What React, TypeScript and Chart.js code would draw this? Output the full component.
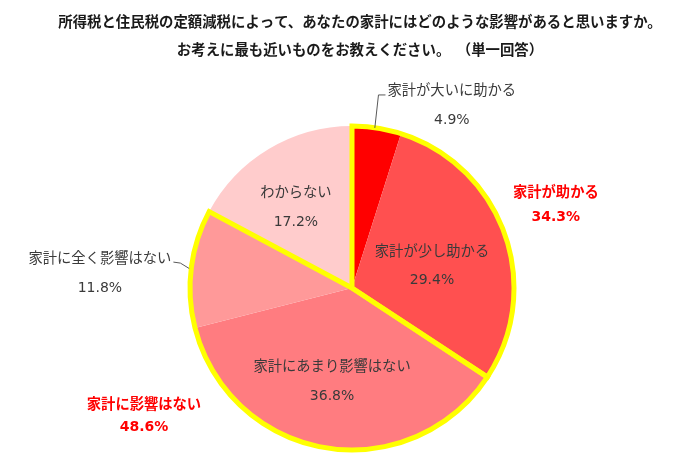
import React, { useEffect, useRef } from "react";
import { Chart, registerables } from "chart.js";

Chart.register(...registerables);

const titleLines = [
  "所得税と住民税の定額減税によって、あなたの家計にはどのような影響があると思いますか。",
  "お考えに最も近いものをお教えください。  （単一回答）",
];

const categories = [
  "家計が大いに助かる",
  "家計が少し助かる",
  "家計にあまり影響はない",
  "家計に全く影響はない",
  "わからない",
];
const values = [4.9, 29.4, 36.8, 11.8, 17.2];
const sliceColors = ["#FF0000", "#FF5050", "#FF7C80", "#FF9999", "#FFCCCC"];

const groupNames = ["家計が助かる", "家計に影響はない"];
const groupValues = [34.3, 48.6];
const groupSlices = [
  [0, 1],
  [2, 3],
];

// label placement: angle (deg from top, clockwise), radius factor, line gap
const labelPlacement = [
  { angle: 28.6, f: 1.287, gap: 30, leader: true },
  { angle: 74.3, f: 0.513, gap: 29, leader: false },
  { angle: 192.1, f: 0.587, gap: 30, leader: false },
  { angle: 273.5, f: 1.559, gap: 31, leader: true },
  { angle: 325.3, f: 0.608, gap: 30, leader: false },
];
const groupPlacement = [
  { angle: 67.7, f: 1.36, gap: 25 },
  { angle: 238.5, f: 1.506, gap: 23 },
];

const FONT = '"Noto Sans CJK JP", "Noto Sans", sans-serif';
const NUMFONT = '"DejaVu Sans", sans-serif';

const overlayPlugin = {
  id: "overlay",
  afterDatasetsDraw(chart: any) {
    const ctx = chart.ctx;
    const arcs = chart.getDatasetMeta(0).data;
    if (!arcs.length) return;
    const cx = arcs[0].x;
    const cy = arcs[0].y;
    const r = arcs[0].outerRadius;

    // yellow group outlines
    ctx.save();
    ctx.strokeStyle = "#FFFF00";
    ctx.lineWidth = 5;
    ctx.lineJoin = "miter";
    groupSlices.forEach((g) => {
      const s = arcs[g[0]].startAngle;
      const e = arcs[g[g.length - 1]].endAngle;
      ctx.beginPath();
      ctx.moveTo(cx, cy);
      ctx.arc(cx, cy, r, s, e);
      ctx.closePath();
      ctx.stroke();
    });
    ctx.restore();

    const polar = (deg: number, f: number) => {
      const a = (deg * Math.PI) / 180;
      return { x: cx + r * f * Math.sin(a), y: cy - r * f * Math.cos(a) };
    };

    // category labels
    ctx.save();
    ctx.textAlign = "center";
    ctx.textBaseline = "middle";
    ctx.fillStyle = "#3a3a3a";
    categories.forEach((name, i) => {
      const p = labelPlacement[i];
      const c = polar(p.angle, p.f);
      ctx.font = `14.3px ${FONT}`;
      ctx.fillText(name, c.x, c.y - p.gap / 2);
      const tw = ctx.measureText(name).width;
      ctx.font = `14px ${NUMFONT}`;
      ctx.fillText(values[i].toFixed(1) + "%", c.x, c.y + p.gap / 2);
      if (p.leader) {
        const arc = arcs[i];
        const mid = (arc.startAngle + arc.endAngle) / 2;
        const ex = cx + r * Math.cos(mid);
        const ey = cy + r * Math.sin(mid);
        const ty = c.y - p.gap / 2 + 5;
        ctx.save();
        ctx.strokeStyle = "#595959";
        ctx.lineWidth = 1;
        ctx.beginPath();
        if (ex > cx) {
          const tx = c.x - tw / 2 - 2;
          ctx.moveTo(tx, ty);
          ctx.lineTo(tx - 7, ty);
          ctx.lineTo(ex - 2, ey);
        } else {
          const tx = c.x + tw / 2 + 2;
          ctx.moveTo(tx, ty);
          ctx.lineTo(tx + 7, ty + 1);
          ctx.lineTo(ex - 2, ey);
        }
        ctx.stroke();
        ctx.restore();
      }
    });

    // group labels
    ctx.fillStyle = "#FF0000";
    groupNames.forEach((name, i) => {
      const p = groupPlacement[i];
      const c = polar(p.angle, p.f);
      ctx.font = `bold 14.3px ${FONT}`;
      ctx.fillText(name, c.x, c.y - p.gap / 2);
      ctx.font = `bold 14px ${NUMFONT}`;
      ctx.fillText(groupValues[i].toFixed(1) + "%", c.x, c.y + p.gap / 2);
    });

    // title
    ctx.fillStyle = "#1a1a1a";
    ctx.font = `bold 14.4px ${FONT}`;
    ctx.fillText(titleLines[0], 360, 22);
    ctx.fillText(titleLines[1], 360, 50);
    ctx.restore();
  },
};

export default function App() {
  const ref = useRef<HTMLCanvasElement>(null);
  useEffect(() => {
    if (!ref.current) return;
    const chart = new Chart(ref.current, {
      type: "pie",
      data: {
        labels: categories,
        datasets: [
          {
            data: values,
            backgroundColor: sliceColors,
            borderWidth: 0,
          },
        ],
      },
      options: {
        responsive: false,
        animation: false,
        layout: { padding: { top: 126, bottom: 23, left: 190, right: 186 } },
        plugins: {
          legend: { display: false },
          tooltip: { enabled: false },
          title: { display: false },
        },
      },
      plugins: [overlayPlugin],
    });
    return () => chart.destroy();
  }, []);
  return (
    <div style={{ position: "fixed", left: 0, top: 0, width: 700, height: 473, background: "#fff" }}>
      <canvas ref={ref} width={700} height={473} />
    </div>
  );
}
